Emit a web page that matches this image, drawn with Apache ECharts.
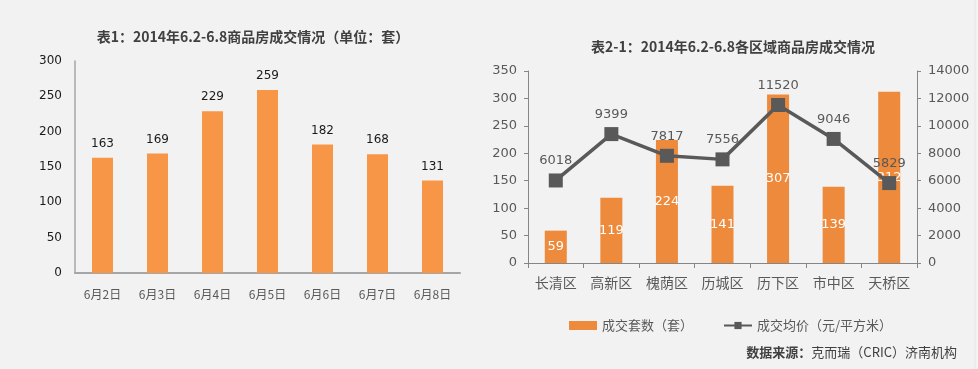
<!DOCTYPE html>
<html><head><meta charset="utf-8">
<script src="https://cdn.jsdelivr.net/npm/echarts@6/dist/echarts.min.js"></script>
<style>html,body{margin:0;padding:0;background:#f2f2f2;}#c{width:978px;height:369px;}</style>
</head><body><div id="c"></div>
<script>
var dayCats = ['6月2日','6月3日','6月4日','6月5日','6月6日','6月7日','6月8日'];
var dayDeals = [163,169,229,259,182,168,131];
var districts = ['长清区','高新区','槐荫区','历城区','历下区','市中区','天桥区'];
var districtDeals = [59,119,224,141,307,139,312];
var districtPrice = [6018,9399,7817,7556,11520,9046,5829];

var CJK = '"Noto Sans CJK SC", "DejaVu Sans", sans-serif';
var NUM = '"DejaVu Sans", "Noto Sans CJK SC", sans-serif';
var chart = echarts.init(document.getElementById('c'));
chart.setOption({
  backgroundColor: '#f2f2f2',
  animation: false,
  title: [
    {text: '表1：2014年6.2-6.8商品房成交情况（单位：套）', left: 248, top: 25, textAlign: 'center',
     textStyle: {fontFamily: CJK, fontSize: 14, fontWeight: 'bold', color: '#404040'}},
    {text: '表2-1：2014年6.2-6.8各区域商品房成交情况', left: 728, top: 35, textAlign: 'center',
     textStyle: {fontFamily: CJK, fontSize: 14, fontWeight: 'bold', color: '#404040'}}
  ],
  legend: {
    left: 564, top: 314, itemGap: 30, itemWidth: 28, itemHeight: 9,
    textStyle: {fontFamily: CJK, fontSize: 13, color: '#595959'},
    data: [{name: '成交套数（套）', icon: 'rect'}, {name: '成交均价（元/平方米）'}]
  },
  grid: [
    {left: 75, top: 61, width: 385, height: 212},
    {left: 528, top: 71, width: 389, height: 192}
  ],
  xAxis: [
    {type: 'category', gridIndex: 0, data: dayCats,
     axisLine: {lineStyle: {color: '#a6a6a6', width: 2}}, axisTick: {show: false},
     axisLabel: {margin: 15, fontFamily: CJK, fontSize: 12, color: '#595959'}},
    {type: 'category', gridIndex: 1, data: districts,
     axisLine: {lineStyle: {color: '#868686', width: 1}},
     axisTick: {show: true, length: 5, lineStyle: {color: '#868686'}},
     axisLabel: {margin: 13, fontFamily: CJK, fontSize: 14, color: '#595959'}}
  ],
  yAxis: [
    {type: 'value', gridIndex: 0, min: 0, max: 300, interval: 50,
     axisLine: {show: true, lineStyle: {color: '#a6a6a6', width: 1.5}}, axisTick: {show: false},
     splitLine: {show: false},
     axisLabel: {margin: 13, fontFamily: NUM, fontSize: 12, color: '#1a1a1a'}},
    {type: 'value', gridIndex: 1, min: 0, max: 350, interval: 50,
     axisLine: {show: true, lineStyle: {color: '#868686'}},
     axisTick: {show: true, length: 4, lineStyle: {color: '#868686'}},
     splitLine: {show: false},
     axisLabel: {margin: 11, fontFamily: NUM, fontSize: 13, color: '#595959'}},
    {type: 'value', gridIndex: 1, position: 'right', min: 0, max: 14000, interval: 2000,
     axisLine: {show: true, lineStyle: {color: '#868686'}},
     axisTick: {show: true, length: 4, lineStyle: {color: '#868686'}},
     splitLine: {show: false},
     axisLabel: {margin: 11, fontFamily: NUM, fontSize: 13, color: '#595959',
       formatter: function (v) { return String(v); }}}
  ],
  series: [
    {type: 'bar', xAxisIndex: 0, yAxisIndex: 0, data: dayDeals, barWidth: 21,
     itemStyle: {color: '#f79646'},
     label: {show: true, position: 'top', distance: 8, fontFamily: NUM, fontSize: 12, color: '#1a1a1a'}},
    {name: '成交套数（套）', type: 'bar', xAxisIndex: 1, yAxisIndex: 1, data: districtDeals, barWidth: 22,
     itemStyle: {color: '#ee8a3c'},
     label: {show: true, position: 'inside', fontFamily: NUM, fontSize: 13, color: '#ffffff'}},
    {name: '成交均价（元/平方米）', type: 'line', xAxisIndex: 1, yAxisIndex: 2, data: districtPrice,
     symbol: 'rect', symbolSize: 14,
     lineStyle: {color: '#595959', width: 3.5}, itemStyle: {color: '#595959'},
     label: {show: true, position: 'top', distance: 6, fontFamily: NUM, fontSize: 13, color: '#595959'}}
  ],
  graphic: [
    {type: 'text', right: 21, top: 346,
     style: {text: '{b|数据来源：}{n|克而瑞（CRIC）济南机构}',
       rich: {b: {fontFamily: CJK, fontSize: 13, fontWeight: 'bold', fill: '#404040', color: '#404040'},
              n: {fontFamily: CJK, fontSize: 13, fill: '#404040', color: '#404040'}}}},
    {type: 'line', shape: {x1: 975, y1: 0, x2: 975, y2: 369}, style: {stroke: '#e6e6e6', lineWidth: 1}}
  ]
});
</script></body></html>
